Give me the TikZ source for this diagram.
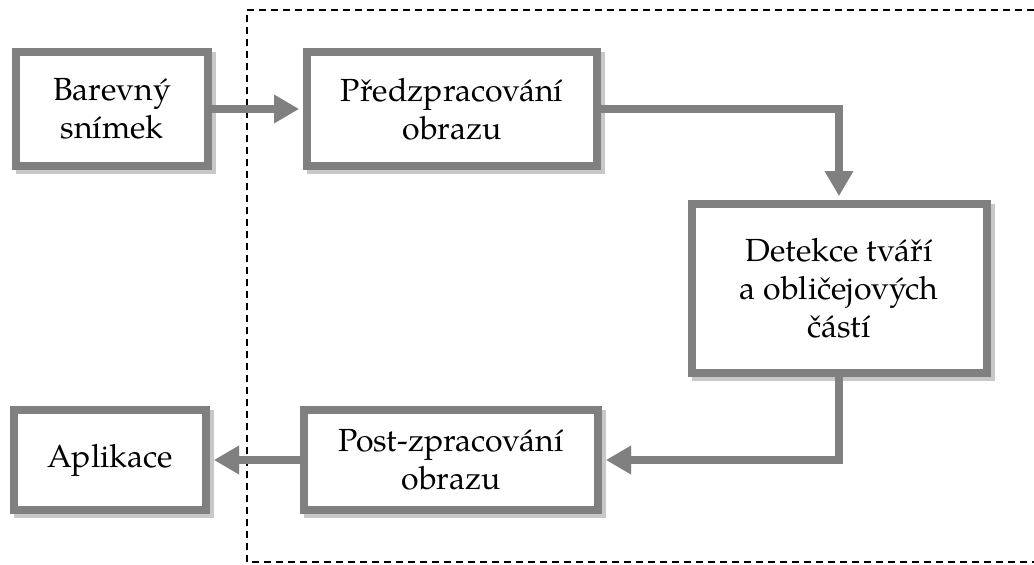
\documentclass[tikz,border=0pt]{standalone}
\usepackage{fontspec}
\setmainfont{TeX Gyre Pagella}
\usetikzlibrary{arrows.meta,shadows}
\definecolor{boxgray}{HTML}{808080}
\definecolor{shadowgray}{HTML}{C8C8C8}
\tikzset{
  box/.style={draw=boxgray, line width=8pt, fill=white, rectangle, align=center,
    inner sep=0pt, line join=miter, font=\fontsize{32}{38}\selectfont,
    drop shadow={shadow xshift=4pt, shadow yshift=-4pt, fill=shadowgray, draw=shadowgray, line width=8pt, opacity=1}},
  conn/.style={draw=boxgray, line width=8pt, line join=miter,
    -{Triangle[length=25pt,width=27pt]}, shorten >=4pt},
  connshadow/.style={conn, draw=shadowgray, xshift=3pt, yshift=-3pt},
  frame/.style={draw=black, line width=2.2pt, dash pattern=on 7pt off 5pt}
}
\begin{document}
\begin{tikzpicture}[x=1pt,y=-1pt]
\useasboundingbox (0,0) rectangle (1034,565);
\draw[frame] (1034,10) -- (247,10) -- (247,562) -- (1034,562);
\node[box, minimum width=192pt, minimum height=114pt] (bar) at (112,109) {Barevný\\snímek};
\node[box, minimum width=290pt, minimum height=114pt] (pre) at (452,109) {Předzpracování\\obrazu};
\node[box, minimum width=295pt, minimum height=169pt] (det) at (839,288.5) {Detekce tváří\\a obličejových\\částí};
\node[box, minimum width=192pt, minimum height=100pt] (apl) at (110,460) {Aplikace};
\node[box, minimum width=294pt, minimum height=100pt] (post) at (451,460) {Post-zpracování\\obrazu};
% connector shadows
\draw[connshadow] (bar.east) -- (pre.west);
\draw[connshadow] (pre.east) -| (det.north);
\draw[connshadow] (det.south) |- (post.east);
\draw[connshadow] (post.west) -- (apl.east);
% connectors
\draw[conn] (bar.east) -- (pre.west);
\draw[conn] (pre.east) -| (det.north);
\draw[conn] (det.south) |- (post.east);
\draw[conn] (post.west) -- (apl.east);
\end{tikzpicture}
\end{document}
